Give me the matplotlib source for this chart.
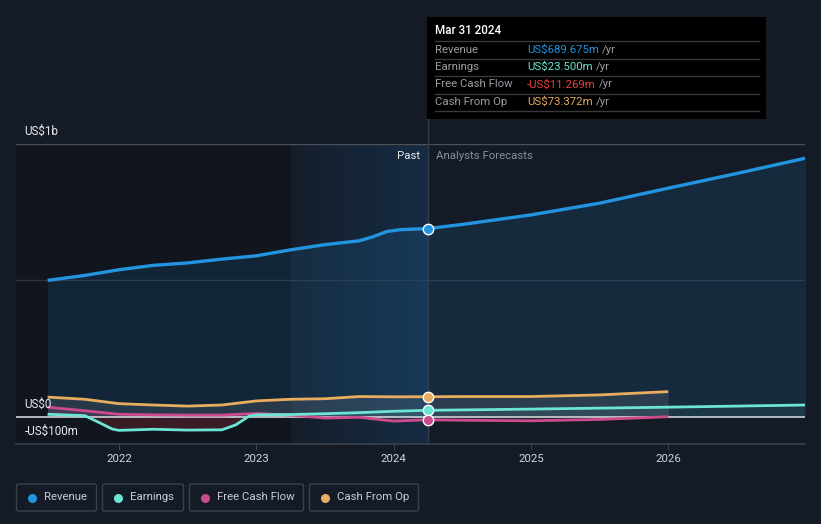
import numpy as np
import matplotlib
matplotlib.use("Agg")
import matplotlib.pyplot as plt
from matplotlib.patches import Rectangle, FancyBboxPatch
from matplotlib.lines import Line2D
from matplotlib.colors import LinearSegmentedColormap
from matplotlib.transforms import offset_copy

plt.rcParams['font.family'] = ['Roboto', 'DejaVu Sans']

# ---------------- data (US$ millions, dates as fractional years) ----------------
rev_dates = [2021.48, 2021.75, 2022.0, 2022.25, 2022.5, 2022.75, 2023.0, 2023.25,
             2023.5, 2023.75, 2023.85, 2023.95, 2024.05, 2024.25,
             2024.5, 2025.0, 2025.5, 2026.0, 2026.5, 2027.0]
rev_vals = [500, 518, 539, 555, 564, 578, 590, 612,
            631, 645, 660, 679, 686, 690,
            705, 740, 783, 838, 892, 948]

earn_dates = [2021.48, 2021.75, 2021.85, 2021.95, 2022.0, 2022.25, 2022.5, 2022.75,
              2022.85, 2022.95, 2023.0, 2023.25, 2023.5, 2023.75, 2024.0, 2024.25,
              2025.0, 2026.0, 2027.0]
earn_vals = [9, 4, -20, -45, -50, -46, -49, -48,
             -30, 3, 7, 8, 11, 15, 20, 23.5,
             28, 35, 43]

fcf_dates = [2021.48, 2021.75, 2022.0, 2022.25, 2022.5, 2022.75, 2023.0, 2023.25,
             2023.5, 2023.75, 2024.0, 2024.25, 2024.5, 2025.0, 2025.5, 2026.0]
fcf_vals = [35, 22, 9, 7, 6, 6, 12, 6,
            -5, -2, -16, -11.3, -13, -15, -10, 0]

cfo_dates = [2021.48, 2021.75, 2022.0, 2022.25, 2022.5, 2022.75, 2023.0, 2023.25,
             2023.5, 2023.75, 2024.0, 2024.25, 2024.5, 2025.0, 2025.5, 2026.0]
cfo_vals = [72, 64, 48, 43, 39, 43, 58, 64,
            66, 74, 73, 73.4, 74, 74, 80, 92]

years = [2022, 2023, 2024, 2025, 2026]
now = 2024.25

C_REV = '#2394df'
C_EARN = '#6ce5d4'
C_FCF = '#cc4b8c'
C_CFO = '#e8ad5e'
BG = '#151b26'

W, H = 821, 524
fig = plt.figure(figsize=(W / 100, H / 100), dpi=100, facecolor=BG)

def px_axes(l, t, r, b):
    return [l / W, 1 - b / H, (r - l) / W, (b - t) / H]

ax = fig.add_axes(px_axes(16, 144, 805, 444))
ax.set_facecolor(BG)
x0, x1 = 2021.25, 2026.996
ax.set_xlim(x0, x1)
ax.set_ylim(-100, 1000)

# shaded regions
ax.axvspan(x0, 2023.25, color='#0c0f15', alpha=0.45, lw=0, zorder=0)
grad = np.linspace(0.15, 1, 256).reshape(1, -1)
cmap = LinearSegmentedColormap.from_list('g', [(0.10, 0.32, 0.52, 0.0), (0.10, 0.32, 0.52, 0.32)])
ax.imshow(grad, extent=[2023.25, now, -100, 1000], aspect='auto', cmap=cmap,
          vmin=0, vmax=1, zorder=0.5, interpolation='bicubic')

# grid lines
ax.axhline(1000, color='#4b5059', lw=1, zorder=1)
ax.axhline(500, color='#2a3441', lw=1, zorder=1)

# fills
ax.fill_between(rev_dates, rev_vals, 0, color=C_REV, alpha=0.13, lw=0, zorder=1.5)
ax.fill_between(cfo_dates, cfo_vals, 0, color='#9aa3a8', alpha=0.16, lw=0, zorder=1.6)
ax.fill_between(earn_dates, earn_vals, 0, where=np.array(earn_vals) < 0, interpolate=True,
                color='#8a2a3a', alpha=0.35, lw=0, zorder=1.6)
ax.fill_between(fcf_dates, fcf_vals, 0, color=C_FCF, alpha=0.15, lw=0, zorder=1.6)
ax.fill_between(earn_dates, earn_vals, 0, where=np.array(earn_vals) >= 0, interpolate=True,
                color=C_EARN, alpha=0.08, lw=0, zorder=1.6)

ax.axhline(0, color='#cfd3d8', lw=1.2, zorder=2)

# lines
ax.plot(rev_dates, rev_vals, color=C_REV, lw=2.4, zorder=4, solid_capstyle='butt')
ax.plot(cfo_dates, cfo_vals, color=C_CFO, lw=2.0, zorder=4, solid_capstyle='butt')
ax.plot(fcf_dates, fcf_vals, color=C_FCF, lw=2.0, zorder=4, solid_capstyle='butt')
ax.plot(earn_dates, earn_vals, color=C_EARN, lw=2.0, zorder=4, solid_capstyle='butt')

# now line and markers
ax.axvline(now, color='#2f3d4f', lw=1, zorder=3)
for d, v, c in [(rev_dates, rev_vals, C_REV), (cfo_dates, cfo_vals, C_CFO),
                (earn_dates, earn_vals, C_EARN), (fcf_dates, fcf_vals, C_FCF)]:
    yv = np.interp(now, d, v)
    ax.plot([now], [yv], 'o', ms=7.5, mfc=c, mec='white', mew=1.0, zorder=6)

for s in ax.spines.values():
    s.set_visible(False)
ax.spines['bottom'].set_visible(True)
ax.spines['bottom'].set_color('#3b414b')
ax.spines['bottom'].set_linewidth(1.2)
ax.set_yticks([])
ax.set_xticks(years)
ax.set_xticklabels([str(y) for y in years], color='#d0d4da', fontsize=8.2)
ax.tick_params(axis='x', length=4, color='#3b414b', pad=3)

# y labels (placed ~12px above their lines)
ytr = offset_copy(ax.get_yaxis_transform(), fig=fig, x=0, y=12.5, units='dots')
for val, lab in [(1000, 'US$1b'), (0, 'US$0'), (-100, '-US$100m')]:
    ax.text(0.011, val, lab, transform=ytr, color='#e8eaed', fontsize=8.4,
            va='center', ha='left', zorder=7)

ax.text(now - 0.06, 955, 'Past', color='#e8eaed', fontsize=8.2, ha='right', va='center')
ax.text(now + 0.06, 955, 'Analysts Forecasts', color='#8a9099', fontsize=8.2, ha='left', va='center')

# ---------------- overlay in pixel coords ----------------
ov = fig.add_axes([0, 0, 1, 1], facecolor='none')
ov.set_xlim(0, W)
ov.set_ylim(H, 0)
ov.axis('off')

ov.add_line(Line2D([427.5, 427.5], [119, 144], color='#2f3d4f', lw=1))

ov.add_patch(Rectangle((427, 17), 339, 102, facecolor='#000000', edgecolor='none'))
ov.text(435, 31, 'Mar 31 2024', color='white', fontsize=8.4, va='center', ha='left',
        fontweight='medium')
rows = [('Revenue', 'US$689.675m', C_REV),
        ('Earnings', 'US$23.500m', C_EARN),
        ('Free Cash Flow', '-US$11.269m', '#e8413c'),
        ('Cash From Op', 'US$73.372m', C_CFO)]
fig.canvas.draw()
renderer = fig.canvas.get_renderer()
for i, (lab, val, col) in enumerate(rows):
    ly = 41.3 + i * 17.4
    ov.add_line(Line2D([435, 759], [ly, ly], color='#3a3a3a', lw=1))
    ty = ly + 8.3
    ov.text(435, ty, lab, color='#9a9ea4', fontsize=8.2, va='center', ha='left')
    t = ov.text(527, ty, val, color=col, fontsize=8.2, va='center', ha='left')
    bb = t.get_window_extent(renderer=renderer)
    xend = bb.x1 * W / fig.bbox.width
    ov.text(xend + 3, ty, '/yr', color='#9a9ea4', fontsize=8.2, va='center', ha='left')
ov.add_line(Line2D([435, 759], [41.3 + 4 * 17.4, 41.3 + 4 * 17.4], color='#3a3a3a', lw=1))

# legend
legend_items = [('Revenue', C_REV, 16, 97), ('Earnings', C_EARN, 102, 184),
                ('Free Cash Flow', C_FCF, 189, 304), ('Cash From Op', C_CFO, 309, 419)]
for lab, col, l, r in legend_items:
    ov.add_patch(FancyBboxPatch((l + 0.5, 484), r - l - 1, 27,
                                boxstyle='round,pad=0,rounding_size=2',
                                facecolor='none', edgecolor='#3c424c', lw=1))
    ov.plot([l + 16], [497.5], 'o', ms=6.5, color=col, mec='none')
    ov.text(l + 28, 497.5, lab, color='#c9cdd3', fontsize=8.2, va='center', ha='left')

fig.savefig('out.png', dpi=100, facecolor=BG)
